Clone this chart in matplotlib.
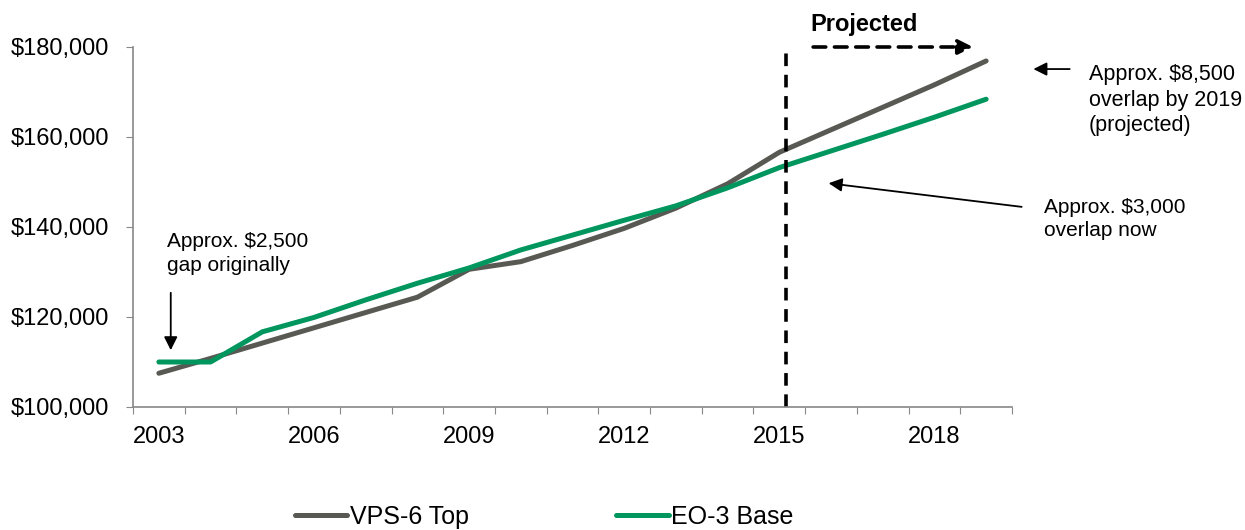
import numpy as np
import matplotlib.pyplot as plt

plt.rcParams['font.family'] = ['Liberation Sans', 'DejaVu Sans']

years = list(range(2003, 2020))
vps6_top = [107500, 110800, 114200, 117600, 121000, 124400, 130600, 132300,
            135900, 139700, 144200, 149600, 156600, 161600, 166600, 171600, 176900]
eo3_base = [110000, 110000, 116700, 119900, 123800, 127500, 130900, 134900,
            138200, 141500, 144700, 148700, 153200, 156900, 160600, 164400, 168400]
year_labels = [2003, 2006, 2009, 2012, 2015, 2018]
y_ticks = [100000, 120000, 140000, 160000, 180000]

gray = '#595954'
green = '#00965e'

fig = plt.figure(figsize=(12.45, 5.3), dpi=100)
ax = fig.add_axes([133/1245, 1-407/530, (1012-133)/1245, (407-47)/530])

ax.plot(years, vps6_top, color=gray, lw=3.6, solid_capstyle='round', label='VPS-6 Top')
ax.plot(years, eo3_base, color=green, lw=3.6, solid_capstyle='round', label='EO-3 Base')

ax.set_xlim(2002.5, 2019.5)
ax.set_ylim(100000, 180000)
ax.set_yticks(y_ticks)
ax.set_yticklabels(['${:,}'.format(v) for v in y_ticks], fontsize=17)
ax.set_xticks(np.arange(2002.5, 2020, 1))
ax.set_xticklabels([])
ax.set_xticks(year_labels, minor=True)
ax.set_xticklabels([str(y) for y in year_labels], minor=True, fontsize=17)
ax.tick_params(axis='x', which='major', length=5, color='#888888', direction='out')
ax.tick_params(axis='x', which='minor', length=0, pad=14)
ax.tick_params(axis='y', length=5, color='#888888', pad=12)
for s in ['top', 'right']:
    ax.spines[s].set_visible(False)
for s in ['left', 'bottom']:
    ax.spines[s].set_color('#888888')
    ax.spines[s].set_linewidth(1.2)

# projection marker
ax.plot([2015.12, 2015.12], [100000, 178700], color='black', lw=2.6,
        dashes=(3.5, 2.4), clip_on=False)
ax.annotate('', xy=(2018.8, 180000), xytext=(2015.6, 180000),
            arrowprops=dict(arrowstyle='-|>', color='black', lw=2.6,
                            linestyle=(0, (3.5, 2.4)), mutation_scale=22),
            annotation_clip=False)
ax.text(2016.64, 184900, 'Projected', fontsize=17, fontweight='bold',
        ha='center', va='center', clip_on=False)

# annotations
ax.annotate('', xy=(2019.86, 175100), xytext=(2020.67, 175100),
            arrowprops=dict(arrowstyle='-|>', color='black', lw=1.3, mutation_scale=20),
            annotation_clip=False)
ax.text(2020.98, 168200, 'Approx. $8,500\noverlap by 2019\n(projected)', fontsize=15.5,
        ha='left', va='center', linespacing=1.3, clip_on=False)

ax.annotate('', xy=(2015.9, 149800), xytext=(2019.74, 144400),
            arrowprops=dict(arrowstyle='-|>', color='black', lw=1.3, mutation_scale=20),
            annotation_clip=False)
ax.text(2020.12, 141800, 'Approx. $3,000\noverlap now', fontsize=15,
        ha='left', va='center', linespacing=1.25, clip_on=False)

ax.annotate('', xy=(2003.23, 112000), xytext=(2003.23, 126000),
            arrowprops=dict(arrowstyle='-|>', color='black', lw=1.3, mutation_scale=20))
ax.text(2003.15, 134100, 'Approx. $2,500\ngap originally', fontsize=15,
        ha='left', va='center', linespacing=1.3)

fig.legend(loc='center', bbox_to_anchor=(544/1245, 1-517/530), ncol=2, frameon=False,
           fontsize=18, handlelength=2.1, handletextpad=0.1, columnspacing=5.9)

fig.savefig('out.png', dpi=100)
